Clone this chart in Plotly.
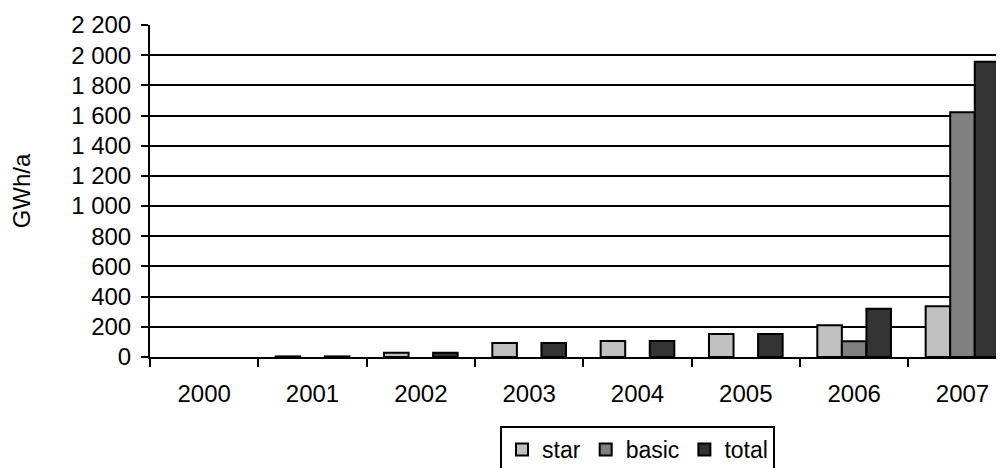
import plotly.graph_objects as go

years = ["2000", "2001", "2002", "2003", "2004", "2005", "2006", "2007"]
star = [None, 4, 28, 92, 106, 153, 210, 336]
basic = [None, None, None, None, None, None, 104, 1622]
total = [None, 4, 28, 92, 106, 153, 320, 1956]
y_ticks = [0, 200, 400, 600, 800, 1000, 1200, 1400, 1600, 1800, 2000, 2200]

FONT = "Liberation Sans, Arial, sans-serif"
FS = 24

fig = go.Figure()
for name, vals, col in [("star", star, "#C0C0C0"), ("basic", basic, "#808080"), ("total", total, "#333333")]:
    fig.add_trace(go.Bar(
        x=years, y=vals, name=name,
        marker=dict(color=col, line=dict(color="black", width=2)),
    ))

# page body has an 8px offset; figure coordinates = screen - 8
OFF = 8
W, H = 1004 - OFF, 468 - OFF
left, top, bottom_px = 150 - OFF, 25 - OFF, 357 - OFF
cat_w = 108.33
plot_w = W - left
xmax = -0.5 + plot_w / cat_w
plot_h = bottom_px - top

fig.update_layout(
    width=W, height=H,
    margin=dict(l=left, r=0, t=top, b=H - bottom_px, autoexpand=False),
    paper_bgcolor="white", plot_bgcolor="white",
    barmode="group", bargap=0.32, bargroupgap=0,
    separators=", ",
    font=dict(family=FONT, size=FS, color="black"),
    showlegend=True,
    legend=dict(
        orientation="h", x=(500 - OFF - left) / plot_w, xanchor="left",
        y=(bottom_px - (426 - OFF)) / plot_h, yanchor="top",
        bordercolor="black", borderwidth=2,
        font=dict(family=FONT, size=23, color="black"),
        itemwidth=30, tracegroupgap=0,
    ),
)
fig.update_xaxes(
    type="category", range=[-0.5, xmax],
    showline=True, linecolor="black", linewidth=2,
    ticks="outside", tickson="boundaries", ticklen=8, tickwidth=2, tickcolor="black",
    showgrid=False, tickfont=dict(size=FS),
    ticklabelstandoff=14,
)
fig.update_yaxes(
    range=[0, 2200], tickvals=y_ticks, tickformat=",d",
    showline=True, linecolor="black", linewidth=2,
    ticks="outside", ticklen=7, tickwidth=2, tickcolor="black",
    showgrid=True, gridcolor="black", gridwidth=2,
    zeroline=False, tickfont=dict(size=FS),
    ticklabelstandoff=5,
    title=dict(text="GWh/a", font=dict(size=FS), standoff=41),
)

fig.write_html("out.html")
